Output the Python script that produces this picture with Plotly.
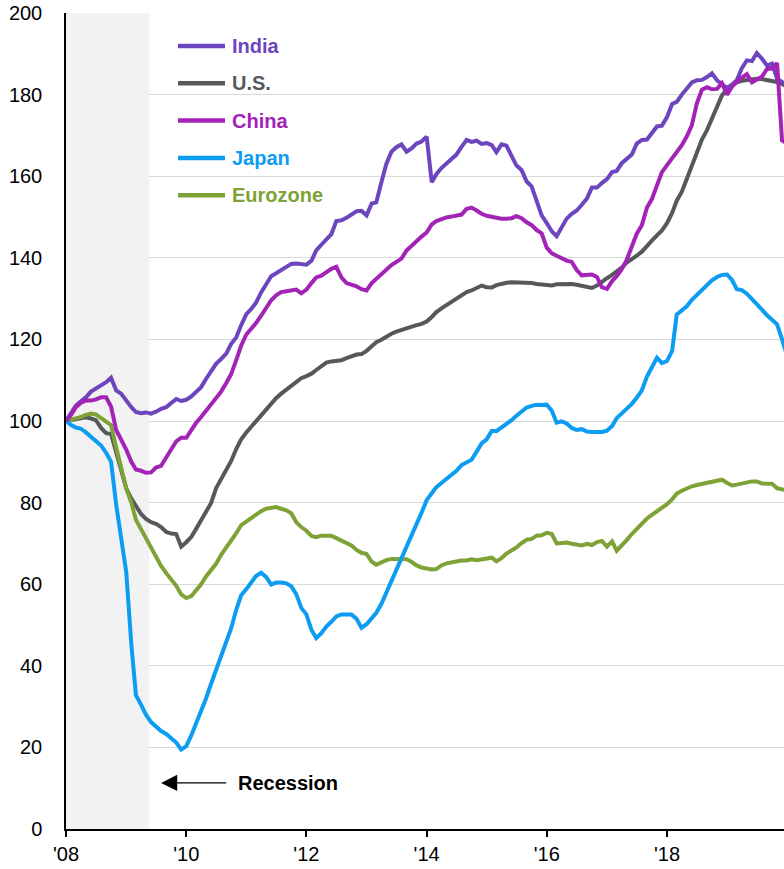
import pandas as pd
import plotly.graph_objects as go

# Monthly index levels (Jan 2008 = 100), Jan 2008 .. Jan 2020
dates = pd.date_range("2008-01-01", periods=145, freq="MS")

india = [
    100, 102, 103.8, 104.8, 105.8, 107.2, 108, 108.7, 109.5, 110.6, 107.5, 106.7,
    105, 103.4, 102.2, 101.9, 102.1, 101.8, 102.3, 103, 103.4, 104.3, 105.4, 104.9,
    105.2, 106, 107.2, 108.3, 110.3, 112.4, 114, 115.2, 116.5, 118.9, 120.5, 123.5,
    126.2, 127.5, 129, 131.5, 133.3, 135.5, 136.2, 137, 137.7, 138.5, 138.6, 138.4,
    138.3, 139.3, 141.8, 143.2, 144.5, 145.8, 149, 149.2, 149.8, 150.5, 151.4, 151.5,
    150.4, 153.3, 153.6, 158.5, 163, 166, 167.1, 167.8, 166, 166.8, 168, 168.5,
    169.7, 158.5, 160.5, 162, 163, 164, 165.3, 167.2, 168.9, 168.4, 168.7, 167.9,
    168.1, 167.6, 165.9, 167.8, 167.5, 165, 162.6, 161.5, 158.7, 157.5, 153.5, 150.4,
    148.5, 146.5, 145.3, 147.5, 149.6, 150.8, 151.6, 153, 154.5, 157.2, 157.2, 158.3,
    159.3, 161, 161.3, 163.2, 164.3, 165.3, 168, 168.9, 169, 170.4, 172.2, 172.4,
    174.5, 177.7, 178.2, 180, 181.5, 183, 183.5, 183.6, 184.3, 185.2, 183.5, 182.5,
    181.6, 182.5, 183.5, 186.5, 188.4, 188.2, 190.2, 188.8, 187.1, 187.6, 183.9, 183.1,
    182.5,
]

us = [
    100, 100.2, 100.5, 100.7, 100.9, 100.6, 100.2, 98.3, 97, 96.8, 92, 87.5,
    83.5, 81, 79, 77.2, 76, 75.2, 74.8, 74, 72.8, 72.4, 72.3, 69.2,
    70.3, 71.6, 73.5, 75.7, 77.8, 79.9, 83.5, 85.8, 87.8, 90.2, 93.2, 95.5,
    97.2, 98.7, 99.9, 101.5, 103, 104.4, 105.6, 106.7, 107.7, 108.4, 109.4, 110.5,
    111, 111.6, 112.5, 113.4, 114.3, 114.6, 114.7, 114.9, 115.4, 115.9, 116.3, 116.4,
    117.2, 118.3, 119.3, 119.9, 120.7, 121.4, 121.9, 122.3, 122.8, 123.3, 123.5, 123.8,
    124.4, 125.5, 126.7, 127.6, 128.4, 129.1, 130, 130.8, 131.6, 132, 132.6, 133.2,
    132.8, 132.7, 133.3, 133.7, 133.9, 134, 134, 134, 134, 133.8, 133.6, 133.5,
    133.3, 133.2, 133.5, 133.6, 133.6, 133.6, 133.4, 133.2, 132.9, 132.6, 133.2, 134.2,
    135, 135.8, 136.6, 137.6, 138.8, 139.6, 140.5, 141.5, 143, 144.2, 145.5, 146.7,
    148.5, 151, 154, 156.2, 159.3, 162.5, 165.9, 169, 171.3, 174, 177.3, 179.8,
    181.3, 182.3, 183, 183.4, 183.6, 183.8, 183.9, 183.8, 183.6, 183.4, 183.1, 182.6,
    182,
]

china = [
    100, 101.5, 103.4, 104.5, 105, 105, 105.3, 105.8, 105.8, 103.5, 97.8, 95.6,
    93, 90, 88.1, 87.8, 87.3, 87.4, 88.6, 89, 91.2, 93, 95, 95.9,
    95.9, 98, 99.5, 101, 102.5, 104, 105.8, 107.2, 109.3, 111.5, 115, 118.5,
    121.2, 122.6, 124, 125.8, 127.8, 129.6, 130.8, 131.6, 131.8, 132.1, 132.2, 131.3,
    132.2, 133.8, 135.2, 135.6, 136.4, 137.3, 137.8, 135.2, 133.8, 133.5, 133, 132.3,
    132, 133.8, 134.9, 135.8, 137.1, 138.2, 139, 139.8, 141.8, 143, 144.1, 145.2,
    146.2, 148.2, 149, 149.5, 149.9, 150.1, 150.3, 150.6, 152, 152.3, 151.6, 150.8,
    150.3, 150, 149.7, 149.6, 149.6, 149.7, 150.2, 149.7, 148.7, 148, 146.8, 146,
    142.5, 141.1, 140.5, 139.8, 139.3, 139, 137, 135.7, 135.8, 135.9, 135.3, 132.8,
    132.4, 134.3, 135.5, 137.2, 139.5, 142.8, 145.9, 148, 152.3, 154.4, 157.8, 161,
    162.7, 164.3, 165.8, 167.6, 169.7, 172.5, 177.8, 181.2, 181.8, 181.3, 181.4, 182.8,
    180, 182, 183.2, 184, 185, 183, 183.7, 184.4, 186.3, 186.4, 187.7, 168.8,
    168,
]

japan = [
    100, 99, 98.4, 98.1, 97.2, 96.2, 95, 94, 92.2, 90, 79.5, 71,
    63, 45.3, 32.8, 30.5, 28, 26.2, 25, 24, 23.3, 22.4, 21.2, 19.5,
    20.3, 23, 25.8, 28.6, 32, 35.6, 39, 42.6, 46.2, 49.2, 53.8, 57.3,
    58.8, 60.5, 62, 62.8, 61.8, 59.9, 60.4, 60.4, 60.2, 59.5, 57.5, 54.2,
    52.6, 48.8, 46.8, 48, 49.6, 50.8, 52.1, 52.6, 52.5, 52.6, 51.5, 49.3,
    50.2, 51.5, 53, 55.2, 58, 61, 63.9, 66.3, 69.5, 71.9, 74.8, 77.5,
    80.6, 82.3, 83.8, 84.8, 85.8, 86.8, 87.8, 89.2, 90, 90.5, 92.5, 94.5,
    95.5, 97.6, 97.5, 98.4, 99.1, 100.2, 101.3, 102.3, 103.3, 103.7, 104, 103.9,
    104, 102.5, 99.6, 99.9, 99.4, 98.3, 97.8, 98, 97.4, 97.3, 97.3, 97.3,
    97.6, 98.8, 100.7, 101.9, 102.9, 104.2, 105.7, 107.5, 110.9, 113.4, 115.5, 114.2,
    114.7, 117.2, 126.1, 127.1, 128.1, 129.7, 130.9, 132, 133.5, 134.5, 135.3, 135.8,
    135.9, 134.5, 132.3, 132.1, 131.2, 130, 128.8, 127.3, 125.9, 124.8, 123.7, 120,
    116,
]

eurozone = [
    100, 100.3, 100.5, 101, 101.5, 101.8, 101.6, 100.7, 99.9, 99, 93.5, 88.8,
    83.5, 80, 75.8, 73.5, 71.2, 68.7, 66.5, 64.5, 62.7, 61.1, 59.6, 57.5,
    56.6, 57.1, 58.4, 60, 61.9, 63.3, 65, 67.2, 69, 70.5, 72.5, 74.5,
    75.4, 76.3, 77.2, 77.9, 78.5, 78.8, 78.9, 78.5, 78.1, 77.4, 75.2, 74,
    73.1, 71.8, 71.5, 71.9, 71.9, 71.9, 71.3, 70.6, 70.1, 69.5, 68.4, 67.7,
    67.4, 65.5, 64.8, 65.5, 65.9, 66.2, 66.2, 66.2, 66.1, 65.5, 64.6, 64.1,
    63.9, 63.6, 63.7, 64.6, 65.1, 65.4, 65.7, 65.8, 65.8, 66.1, 65.9, 66.1,
    66.4, 66.5, 65.6, 66.4, 67.5, 68.3, 69, 70.1, 70.9, 71.1, 71.9, 72,
    72.6, 72.3, 70, 70.1, 70.2, 69.9, 69.7, 69.5, 69.9, 69.6, 70.3, 70.6,
    69.2, 70.5, 68.2, 69.4, 70.8, 72.3, 73.6, 75, 76.1, 77, 77.8, 78.7,
    79.6, 80.8, 82.2, 82.9, 83.5, 84, 84.3, 84.6, 84.9, 85.1, 85.3, 85.6,
    84.8, 84.2, 84.4, 84.7, 85.1, 85.2, 85.2, 84.7, 84.6, 84.6, 83.5, 83.2,
    83,
]

for s in (india, us, china, japan, eurozone):
    assert len(s) == len(dates)

legend_names = ["India", "U.S.", "China", "Japan", "Eurozone"]
legend_colors = ["#6d45be", "#55595c", "#a223b5", "#0c9cf2", "#7ea236"]
values_by_name = dict(zip(legend_names, [india, us, china, japan, eurozone]))
color_by_name = dict(zip(legend_names, legend_colors))

tick_dates = ["2008-01-01", "2010-01-01", "2012-01-01", "2014-01-01", "2016-01-01", "2018-01-01"]
tick_labels = ["'08", "'10", "'12", "'14", "'16", "'18"]
y_ticks = [0, 20, 40, 60, 80, 100, 120, 140, 160, 180, 200]

recession_start = "2008-01-01"
recession_end = "2009-05-20"

FONT = "Arial, Liberation Sans, sans-serif"

fig = go.Figure()
for name in ["U.S.", "Eurozone", "Japan", "India", "China"]:
    fig.add_trace(go.Scatter(
        x=dates, y=values_by_name[name], mode="lines", name=name,
        line=dict(color=color_by_name[name], width=4),
        showlegend=False,
    ))

# recession band (above the grid, beneath the lines)
fig.add_shape(type="rect", xref="x", yref="y",
              x0=recession_start, x1=recession_end, y0=0, y1=200,
              fillcolor="#f2f2f2", line=dict(width=0), layer="between")

# recession pointer
fig.add_annotation(x="2009-08-01", y=11.3, ax="2010-09-10", ay=11.3,
                   xref="x", yref="y", axref="x", ayref="y",
                   text="", showarrow=True, arrowhead=2, arrowsize=2.3,
                   arrowwidth=1.4, arrowcolor="black")
fig.add_annotation(x="2010-11-01", y=11.3, xref="x", yref="y",
                   text="<b>Recession</b>", showarrow=False,
                   xanchor="left", yanchor="middle",
                   font=dict(family=FONT, size=20, color="black"))

# hand-built legend
plot_w, plot_h = 718, 816
for i, name in enumerate(legend_names):
    py = 33 + i * 37.3
    yp = 1 - py / plot_h
    fig.add_shape(type="line", xref="paper", yref="paper",
                  x0=112 / plot_w, x1=159 / plot_w, y0=yp, y1=yp,
                  line=dict(color=color_by_name[name], width=4.5))
    fig.add_annotation(x=164 / plot_w, y=yp, xref="paper", yref="paper",
                       text=f"<b>{name}</b>", showarrow=False,
                       xanchor="left", yanchor="middle",
                       font=dict(family=FONT, size=20, color=color_by_name[name]))

fig.update_layout(
    width=784, height=869,
    margin=dict(l=66, r=0, t=13, b=40),
    plot_bgcolor="white", paper_bgcolor="white",
    font=dict(family=FONT, size=20, color="black"),
    showlegend=False,
)
fig.update_xaxes(
    type="date", range=["2008-01-01", "2019-12-13"],
    tickvals=tick_dates, ticktext=tick_labels,
    ticks="outside", ticklen=6, tickwidth=2, tickcolor="black",
    showline=True, linecolor="black", linewidth=2,
    showgrid=False, zeroline=False,
    tickfont=dict(family=FONT, size=20, color="black"),
)
fig.update_yaxes(
    range=[0, 200], tickvals=y_ticks,
    showgrid=True, gridcolor="#d9d9d9", gridwidth=1.3,
    showline=True, linecolor="black", linewidth=1.5,
    zeroline=False, ticks="", ticklabelstandoff=18,
    tickfont=dict(family=FONT, size=20, color="black"),
)

fig.write_html("out.html")
